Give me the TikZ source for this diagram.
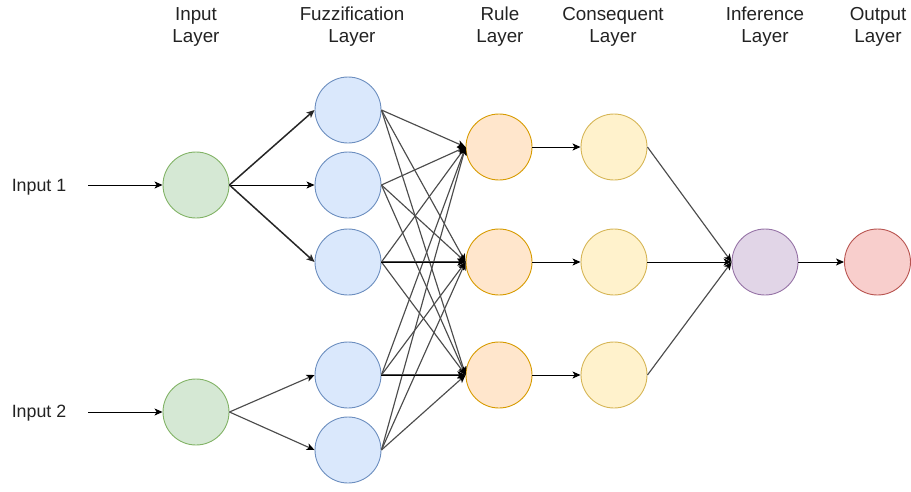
\documentclass[tikz,border=0pt]{standalone}
\usepackage{fontspec}
\setmainfont{Liberation Sans}
\usetikzlibrary{arrows.meta}
\definecolor{gfill}{HTML}{D5E8D4}\definecolor{gdraw}{HTML}{82B366}
\definecolor{bfill}{HTML}{DAE8FC}\definecolor{bdraw}{HTML}{6C8EBF}
\definecolor{ofill}{HTML}{FFE6CC}\definecolor{odraw}{HTML}{D79B00}
\definecolor{yfill}{HTML}{FFF2CC}\definecolor{ydraw}{HTML}{D6B656}
\definecolor{pfill}{HTML}{E1D5E7}\definecolor{pdraw}{HTML}{9673A6}
\definecolor{rfill}{HTML}{F8CECC}\definecolor{rdraw}{HTML}{B85450}
\definecolor{txt}{HTML}{222222}
\tikzset{
  neuron/.style={circle, minimum size=66pt, inner sep=0pt, line width=0.9pt},
  ginp/.style={neuron, fill=gfill, draw=gdraw},
  gfuz/.style={neuron, fill=bfill, draw=bdraw},
  grul/.style={neuron, fill=ofill, draw=odraw},
  gcon/.style={neuron, fill=yfill, draw=ydraw},
  ginf/.style={neuron, fill=pfill, draw=pdraw},
  gout/.style={neuron, fill=rfill, draw=rdraw},
  lbl/.style={text=txt, font=\fontsize{18.8pt}{22pt}\selectfont, align=center, inner sep=0pt},
  ilbl/.style={text=txt, font=\fontsize{17.8pt}{22pt}\selectfont, inner sep=0pt},
  blk/.style={draw=black, line width=1pt, -{Stealth[length=8pt,width=7pt,inset=2pt]}},
  bold/.style={blk, draw=black!85, line width=1.5pt},
  gry/.style={draw=black!70, line width=1.15pt, -{Stealth[length=8pt,width=7pt,inset=2pt,color=black]}},
}
\begin{document}
\begin{tikzpicture}[x=1pt,y=-1pt]
\useasboundingbox (0,0) rectangle (911,491);
% top labels
\node[lbl] (tl1) at (196,27) {Input\\Layer};
\node[lbl] (tl2) at (352,27) {Fuzzification\\Layer};
\node[lbl] (tl3) at (500,27) {Rule\\Layer};
\node[lbl] (tl4) at (613,27) {Consequent\\Layer};
\node[lbl] (tl5) at (765,27) {Inference\\Layer};
\node[lbl] (tl6) at (878,27) {Output\\Layer};
% input texts
\node[ilbl] (t1) at (39,187) {Input 1};
\node[ilbl] (t2) at (39,413) {Input 2};
\coordinate (s1) at (88,185);
\coordinate (s2) at (88,412);
% nodes
\node[ginp] (in1) at (196,185) {};
\node[ginp] (in2) at (196,412) {};
\node[gfuz] (f1) at (348,110) {};
\node[gfuz] (f2) at (348,185) {};
\node[gfuz] (f3) at (348,262) {};
\node[gfuz] (f4) at (348,375) {};
\node[gfuz] (f5) at (348,450) {};
\node[grul] (r1) at (499,147) {};
\node[grul] (r2) at (499,262) {};
\node[grul] (r3) at (499,375) {};
\node[gcon] (c1) at (614,147) {};
\node[gcon] (c2) at (614,262) {};
\node[gcon] (c3) at (614,375) {};
\node[ginf] (inf) at (765,262) {};
\node[gout] (out) at (877.5,262) {};
% edges
\draw[blk] (s1) -- (in1.west);
\draw[blk] (s2) -- (in2.west);
\draw[bold] (in1.east) -- (f1.west);
\draw[blk] (in1.east) -- (f2.west);
\draw[bold] (in1.east) -- (f3.west);
\foreach \f in {f4,f5} \draw[gry] (in2.east) -- (\f.west);
\foreach \f in {f1,f2,f3,f4,f5}
  \foreach \r in {r1,r2,r3}
    \draw[gry] (\f.east) -- (\r.west);
\draw[blk] (f3.east) -- (r2.west);
\draw[blk] (f4.east) -- (r3.west);
\draw[blk] (r1.east) -- (c1.west);
\draw[blk] (r2.east) -- (c2.west);
\draw[blk] (r3.east) -- (c3.west);
\draw[gry] (c1.east) -- (inf.west);
\draw[gry] (c3.east) -- (inf.west);
\draw[blk] (c2.east) -- (inf.west);
\draw[blk] (inf.east) -- (out.west);
\end{tikzpicture}
\end{document}
